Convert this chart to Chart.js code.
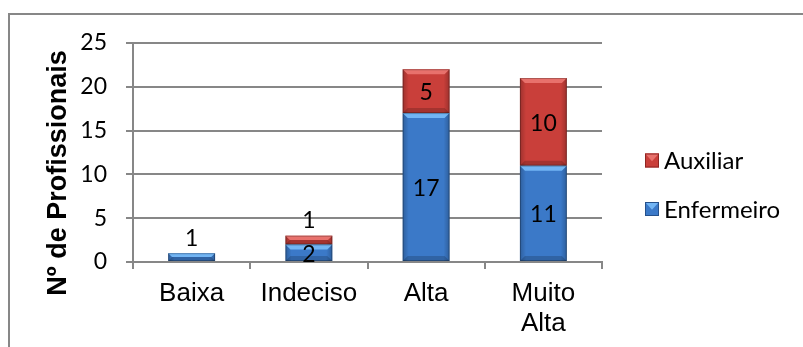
<!DOCTYPE html>
<html>
<head>
<meta charset="utf-8">
<script src="https://cdn.jsdelivr.net/npm/chart.js@4.4.1/dist/chart.umd.min.js"></script>
<style>
  html, body { margin: 0; padding: 0; background: #ffffff; overflow: hidden; }
  #wrap { position: relative; width: 803px; height: 347px; overflow: hidden; }
  #frame { position: absolute; left: 8px; top: 13px; width: 900px; height: 400px;
           border-left: 2px solid #878787; border-top: 2px solid #878787; }
  #c { position: absolute; left: 0; top: 0; }
</style>
</head>
<body>
<div id="wrap">
  <div id="frame"></div>
  <canvas id="c" width="803" height="347"></canvas>
</div>
<script>
// Nº de profissionais por categoria e por grupo
const categories = ['Baixa', 'Indeciso', 'Alta', ['Muito', 'Alta']];
const enfermeiro = [1, 2, 17, 11];
const auxiliar = [0, 1, 5, 10];
const yTicks = [0, 5, 10, 15, 20, 25];
const axisTitle = 'Nº de Profissionais';
const seriesNames = ['Enfermeiro', 'Auxiliar'];

const palette = {
  Enfermeiro: { body: '#3b79c8', light: '#72b5f4', dark: '#25518c' },
  Auxiliar:   { body: '#c93f3a', light: '#e8716c', dark: '#8e2522' }
};
const gridColor = '#878787';
const numberFont = 'Lato, "Open Sans", sans-serif';

// Bevelled look on each bar segment
const bevelPlugin = {
  id: 'bevel',
  afterDatasetsDraw(chart) {
    const ctx = chart.ctx;
    chart.data.datasets.forEach((ds, di) => {
      const meta = chart.getDatasetMeta(di);
      const pal = palette[ds.label];
      meta.data.forEach((el, i) => {
        if (!ds.data[i]) return;
        const L = el.x - el.width / 2, R = el.x + el.width / 2;
        const T = Math.min(el.y, el.base), B = Math.max(el.y, el.base);
        const h = B - T;
        const b = Math.min(5, h / 2);
        ctx.save();
        const g = ctx.createLinearGradient(L, 0, R, 0);
        g.addColorStop(0, 'rgba(0,0,0,0.22)');
        g.addColorStop(0.13, 'rgba(0,0,0,0.0)');
        g.addColorStop(0.87, 'rgba(0,0,0,0.0)');
        g.addColorStop(1, 'rgba(0,0,0,0.22)');
        ctx.fillStyle = g;
        ctx.fillRect(L, T, R - L, h);
        // top bevel
        ctx.fillStyle = pal.light;
        ctx.beginPath();
        ctx.moveTo(L, T); ctx.lineTo(R, T); ctx.lineTo(R - b, T + b); ctx.lineTo(L + b, T + b);
        ctx.closePath(); ctx.fill();
        // bottom bevel
        ctx.fillStyle = 'rgba(0,0,0,0.18)';
        ctx.beginPath();
        ctx.moveTo(L, B); ctx.lineTo(R, B); ctx.lineTo(R - b, B - b); ctx.lineTo(L + b, B - b);
        ctx.closePath(); ctx.fill();
        ctx.strokeStyle = 'rgba(0,0,0,0.25)';
        ctx.lineWidth = 1;
        ctx.strokeRect(L + 0.5, T + 0.5, R - L - 1, h - 1);
        ctx.restore();
      });
    });
  }
};

// Value labels: centred in the segment, or above the stack when the segment is too thin
const valueLabels = {
  id: 'valueLabels',
  afterDatasetsDraw(chart) {
    const ctx = chart.ctx;
    const sets = chart.data.datasets;
    ctx.save();
    ctx.font = '23px ' + numberFont;
    ctx.fillStyle = '#000000';
    ctx.textAlign = 'center';
    ctx.textBaseline = 'middle';
    sets.forEach((ds, di) => {
      const meta = chart.getDatasetMeta(di);
      meta.data.forEach((el, i) => {
        const v = ds.data[i];
        if (!v) return;
        const T = Math.min(el.y, el.base), B = Math.max(el.y, el.base);
        let isTop = true;
        for (let k = di + 1; k < sets.length; k++) if (sets[k].data[i]) isTop = false;
        let y;
        if (B - T < 12 && isTop) y = T - 15;
        else y = (T + B) / 2 + 1.5;
        ctx.fillText(String(v), el.x, y);
      });
    });
    ctx.restore();
  }
};

// Axis title and legend at the right
const sideTexts = {
  id: 'sideTexts',
  afterDraw(chart) {
    const ctx = chart.ctx;
    ctx.save();
    ctx.translate(59, 173);
    ctx.rotate(-Math.PI / 2);
    ctx.font = 'bold 27px "Liberation Sans", Arial, sans-serif';
    ctx.fillStyle = '#000000';
    ctx.textAlign = 'center';
    ctx.textBaseline = 'middle';
    ctx.fillText(axisTitle, 0, 0);
    ctx.restore();

    const items = chart.data.datasets.slice().reverse();
    items.forEach((ds, k) => {
      const pal = palette[ds.label];
      const cy = 160.5 + k * 48.5;
      const s = 14, L = 645, T = cy - s / 2;
      ctx.save();
      ctx.fillStyle = pal.body;
      ctx.fillRect(L, T, s, s);
      ctx.fillStyle = pal.light;
      ctx.beginPath();
      ctx.moveTo(L, T); ctx.lineTo(L + s, T); ctx.lineTo(L + s / 2, T + s * 0.55);
      ctx.closePath(); ctx.fill();
      ctx.strokeStyle = pal.dark;
      ctx.lineWidth = 1;
      ctx.strokeRect(L + 0.5, T + 0.5, s - 1, s - 1);
      ctx.font = '24px ' + numberFont;
      ctx.fillStyle = '#000000';
      ctx.textAlign = 'left';
      ctx.textBaseline = 'middle';
      ctx.fillText(ds.label, 664, cy + 1);
      ctx.restore();
    });
  }
};

new Chart(document.getElementById('c'), {
  type: 'bar',
  data: {
    labels: categories,
    datasets: [
      { label: seriesNames[0], data: enfermeiro, backgroundColor: palette.Enfermeiro.body,
        borderWidth: 0, barPercentage: 0.4, categoryPercentage: 1.0 },
      { label: seriesNames[1], data: auxiliar, backgroundColor: palette.Auxiliar.body,
        borderWidth: 0, barPercentage: 0.4, categoryPercentage: 1.0 }
    ]
  },
  options: {
    responsive: false,
    animation: false,
    devicePixelRatio: 1,
    layout: { padding: { left: 0, top: 43, right: 201, bottom: 0 } },
    plugins: {
      legend: { display: false },
      tooltip: { enabled: false }
    },
    scales: {
      x: {
        stacked: true,
        grid: { display: true, drawOnChartArea: false, drawTicks: true, tickLength: 7,
                color: gridColor, lineWidth: 2, offset: true },
        border: { display: true, color: gridColor, width: 2 },
        ticks: { color: '#000000', padding: 9,
                 font: { family: '"Liberation Sans", Arial, sans-serif', size: 26, lineHeight: 1.18 } },
        afterFit(s) { s.height = 85; }
      },
      y: {
        stacked: true,
        min: 0, max: 25,
        afterBuildTicks(s) { s.ticks = yTicks.map(v => ({ value: v })); },
        grid: { color: gridColor, lineWidth: 2, tickLength: 7, drawTicks: true },
        border: { display: true, color: gridColor, width: 2 },
        ticks: { color: '#000000', padding: 19, font: { family: numberFont, size: 23 } },
        afterFit(s) { s.width = 133; }
      }
    }
  },
  plugins: [bevelPlugin, valueLabels, sideTexts]
});
</script>
</body>
</html>
